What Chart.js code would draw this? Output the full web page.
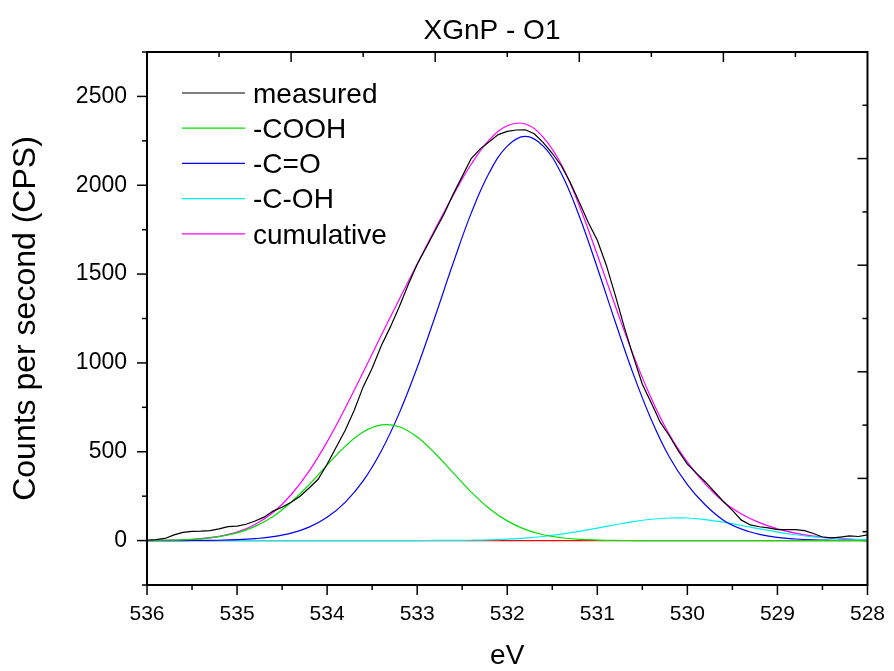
<!DOCTYPE html>
<html>
<head>
<meta charset="utf-8">
<script src="https://cdn.jsdelivr.net/npm/chart.js@4/dist/chart.umd.min.js"></script>
<style>
  html, body { margin: 0; padding: 0; background: #ffffff; }
  #wrap { width: 894px; height: 671px; position: relative; }
</style>
</head>
<body>
<div id="wrap"><canvas id="c" width="894" height="671"></canvas></div>
<script>
// ---------------- data ----------------
const chartTitle = 'XGnP - O1';
const xAxisTitle = 'eV';
const yAxisTitle = 'Counts per second (CPS)';

const xTickValues = [536, 535, 534, 533, 532, 531, 530, 529, 528];
const xMinorTickValues = [535.5, 534.5, 533.5, 532.5, 531.5, 530.5, 529.5, 528.5];
const yTickValues = [0, 500, 1000, 1500, 2000, 2500];
const yMinorTickValues = [-250, 250, 750, 1250, 1750, 2250, 2750];

const seriesLabels = ['measured', '-COOH', '-C=O', '-C-OH', 'cumulative'];

// measured spectrum (eV, CPS)
const energyMeasured = [
  536.0, 535.9, 535.8, 535.7, 535.6, 535.5, 535.4, 535.3, 535.2, 535.1,
  535.0, 534.9, 534.8, 534.7, 534.6, 534.5, 534.4, 534.3, 534.2, 534.1,
  534.0, 533.9, 533.8, 533.7, 533.6, 533.5, 533.4, 533.3, 533.2, 533.1,
  533.0, 532.9, 532.8, 532.7, 532.6, 532.5, 532.4, 532.3, 532.2, 532.1,
  532.0, 531.9, 531.8, 531.7, 531.6, 531.5, 531.4, 531.3, 531.2, 531.1,
  531.0, 530.9, 530.8, 530.7, 530.6, 530.5, 530.4, 530.3, 530.2, 530.1,
  530.0, 529.9, 529.8, 529.7, 529.6, 529.5, 529.4, 529.3, 529.2, 529.1,
  529.0, 528.9, 528.8, 528.7, 528.6, 528.5, 528.4, 528.3, 528.2, 528.1,
  528.0
];
const measured = [
  2, 5, 12, 32, 46, 52, 53, 56, 66, 79,
  81, 92, 110, 132, 166, 188, 216, 250, 296, 345,
  430, 525, 620, 732, 865, 970, 1095, 1200, 1315, 1440,
  1555, 1650, 1745, 1840, 1950, 2050, 2150, 2205, 2245, 2285,
  2303, 2311, 2312, 2290, 2240, 2180, 2110, 2015, 1905, 1790,
  1690, 1550, 1380, 1200, 1035, 880, 775, 665, 590, 505,
  430, 380, 330, 275, 220, 170, 115, 88, 78, 72,
  62, 62, 62, 56, 40, 20, 15, 20, 26, 23,
  32
];

// fitted components (eV, CPS)
const energyFit = [
  536.0, 535.8, 535.6, 535.4, 535.2, 535.0, 534.8, 534.6, 534.4, 534.2,
  534.0, 533.8, 533.6, 533.4, 533.2, 533.0, 532.8, 532.6, 532.4, 532.2,
  532.0, 531.8, 531.6, 531.4, 531.2, 531.0, 530.8, 530.6, 530.4, 530.2,
  530.0, 529.8, 529.6, 529.4, 529.2, 529.0, 528.8, 528.6, 528.4, 528.2,
  528.0
];
const cooh = [
  1, 2, 4, 10, 22, 43, 80, 136, 216, 315,
  425, 530, 611, 651, 641, 583, 490, 381, 273, 181,
  111, 63, 33, 16, 7, 3, 1, 0, 0, 0,
  0, 0, 0, 0, 0, 0, 0, 0, 0, 0,
  0
];
const carbonyl = [
  0, 0, 0, 1, 2, 5, 11, 22, 42, 76,
  131, 215, 336, 503, 716, 974, 1263, 1562, 1843, 2070,
  2220, 2275, 2220, 2066, 1826, 1536, 1230, 937, 680, 470,
  315, 200, 115, 65, 35, 18, 9, 4, 2, 1,
  0
];
const hydroxyl = [
  0, 0, 0, 0, 0, 0, 0, 0, 0, 0,
  0, 0, 0, 0, 0, 0, 1, 1, 2, 4,
  8, 14, 23, 36, 52, 70, 89, 107, 120, 127,
  127, 118, 104, 85, 66, 48, 33, 21, 13, 7,
  4
];
const cumulative = [
  1, 2, 4, 11, 24, 48, 91, 158, 258, 391,
  556, 745, 947, 1154, 1357, 1557, 1754, 1944, 2118, 2255,
  2335, 2345, 2270, 2118, 1885, 1609, 1320, 1044, 800, 597,
  442, 318, 219, 150, 101, 66, 42, 25, 15, 8,
  4
];
const baselineEnergy = [536, 528];
const baseline = [0, 0];

// ---------------- chart ----------------
const FONT = '"Liberation Sans", Arial, Helvetica, sans-serif';
const pts = (xs, ys) => xs.map((x, i) => ({ x: x, y: ys[i] }));

const frameAndLegend = {
  id: 'frameAndLegend',
  afterDatasetsDraw(chart) {
    const ctx = chart.ctx;
    const ca = chart.chartArea;
    const xs = chart.scales.x, ys = chart.scales.y;
    ctx.save();
    ctx.strokeStyle = '#000';
    ctx.lineCap = 'butt';
    const seg = (x1, y1, x2, y2) => { ctx.beginPath(); ctx.moveTo(x1, y1); ctx.lineTo(x2, y2); ctx.stroke(); };
    // ticks
    ctx.lineWidth = 1.5;
    xTickValues.forEach(v => { const p = xs.getPixelForValue(v); seg(p, ca.bottom, p, ca.bottom + 10); });
    xMinorTickValues.forEach(v => { const p = xs.getPixelForValue(v); seg(p, ca.bottom, p, ca.bottom + 5); });
    yTickValues.forEach(v => { const p = ys.getPixelForValue(v); seg(ca.left, p, ca.left - 10, p); });
    yMinorTickValues.forEach(v => { const p = ys.getPixelForValue(v); seg(ca.left, p, ca.left - 5, p); });
    // top and right (unlabelled) axes, ticks pointing inward
    const w = ca.right - ca.left, h = ca.bottom - ca.top;
    for (let k = 1; k < 10; k++) {
      const px = ca.left + k * w / 10;
      seg(px, ca.top, px, ca.top + (k % 2 === 0 ? 10 : 5));
      const py = ca.bottom - k * h / 10;
      seg(ca.right, py, ca.right - (k % 2 === 0 ? 10 : 5), py);
    }
    // frame
    ctx.lineWidth = 2;
    ctx.strokeRect(ca.left, ca.top, w, h);
    // title
    ctx.fillStyle = '#000';
    ctx.font = '28px ' + FONT;
    ctx.textAlign = 'center';
    ctx.textBaseline = 'middle';
    ctx.fillText(chartTitle, 492, 31);
    // legend
    ctx.font = '28px ' + FONT;
    ctx.textBaseline = 'middle';
    ctx.textAlign = 'left';
    let row = 0;
    chart.data.datasets.forEach(ds => {
      if (!ds.inLegend) return;
      const y = ca.top + 41 + row * 35.2;
      ctx.strokeStyle = ds.borderColor;
      ctx.lineWidth = 1.2;
      seg(ca.left + 35, y, ca.left + 98, y);
      ctx.fillText(ds.label, ca.left + 106, y + 2);
      row++;
    });
    ctx.restore();
  }
};

new Chart(document.getElementById('c'), {
  type: 'line',
  data: {
    datasets: [
      { label: seriesLabels[0], data: pts(energyMeasured, measured), borderColor: '#000000', borderWidth: 1.2, tension: 0, inLegend: true },
      { label: seriesLabels[1], data: pts(energyFit, cooh), borderColor: '#00e000', borderWidth: 1.2, tension: 0.4, inLegend: true },
      { label: seriesLabels[2], data: pts(energyFit, carbonyl), borderColor: '#0000ff', borderWidth: 1.2, tension: 0.4, inLegend: true },
      { label: seriesLabels[3], data: pts(energyFit, hydroxyl), borderColor: '#00f0f0', borderWidth: 1.2, tension: 0.4, inLegend: true },
      { label: seriesLabels[4], data: pts(energyFit, cumulative), borderColor: '#ff00ff', borderWidth: 1.2, tension: 0.4, inLegend: true },
      { label: 'baseline', data: pts(baselineEnergy, baseline), borderColor: '#ff0000', borderWidth: 1.2, inLegend: false }
    ]
  },
  options: {
    responsive: false,
    animation: false,
    devicePixelRatio: 1,
    elements: { point: { radius: 0, hoverRadius: 0 }, line: { fill: false } },
    layout: { padding: { left: 0, right: 23, top: 52, bottom: 0 } },
    plugins: {
      legend: { display: false },
      tooltip: { enabled: false },
      title: { display: false }
    },
    scales: {
      x: {
        type: 'linear',
        position: 'bottom',
        min: 528, max: 536,
        reverse: true,
        grid: { display: false },
        border: { display: false },
        afterBuildTicks: s => { s.ticks = xTickValues.map(v => ({ value: v })); },
        afterFit: s => { s.height = 86; },
        ticks: {
          color: '#000',
          font: { family: FONT, size: 21 },
          padding: 9,
          maxRotation: 0,
          autoSkip: false,
          callback: v => String(v)
        },
        title: {
          display: true,
          text: xAxisTitle,
          color: '#000',
          font: { family: FONT, size: 28, lineHeight: 1 },
          padding: { top: 0, bottom: 1 }
        }
      },
      y: {
        type: 'linear',
        position: 'left',
        min: -250, max: 2750,
        grid: { display: false },
        border: { display: false },
        afterBuildTicks: s => { s.ticks = yTickValues.map(v => ({ value: v })); },
        afterFit: s => { s.width = 147; },
        ticks: {
          color: '#000',
          font: { family: FONT, size: 23 },
          padding: 12,
          autoSkip: false,
          callback: v => String(v)
        },
        title: {
          display: true,
          text: yAxisTitle,
          color: '#000',
          font: { family: FONT, size: 32, lineHeight: 1 },
          padding: { top: 10, bottom: 0 }
        }
      }
    }
  },
  plugins: [frameAndLegend]
});
</script>
</body>
</html>
